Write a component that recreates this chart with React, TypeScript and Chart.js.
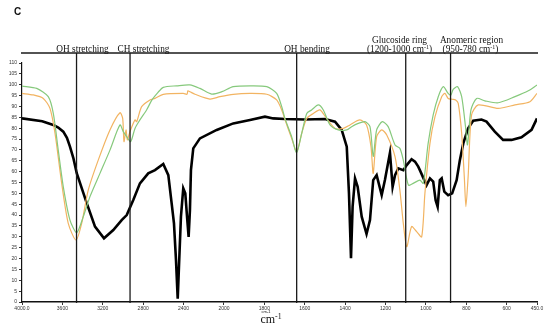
import { useEffect, useRef } from "react";
import { Chart, registerables } from "chart.js";

Chart.register(...registerables);

// Wavenumbers (cm-1) and transmittance (%)
const blackWn = [4000, 3800, 3690, 3641, 3591, 3555, 3525, 3490, 3458, 3359, 3277, 3188, 3096, 3013, 2963, 2898, 2832, 2750, 2683, 2601, 2551, 2518, 2495, 2475, 2458, 2443, 2426, 2403, 2383, 2363, 2350, 2337, 2327, 2304, 2238, 2072, 1954, 1871, 1797, 1756, 1698, 1599, 1500, 1450, 1417, 1392, 1381, 1371, 1363, 1351, 1338, 1318, 1294, 1277, 1261, 1244, 1219, 1203, 1178, 1165, 1153, 1137, 1112, 1095, 1071, 1054, 1038, 1030, 997, 980, 964, 952, 942, 931, 922, 909, 890, 870, 848, 832, 815, 791, 766, 725, 700, 659, 618, 576, 527, 477, 450];
const blackT = [84.5, 83.2, 81.5, 80.3, 78.4, 75.6, 71.5, 66, 59.3, 45.5, 34.7, 29.3, 33.1, 37.7, 40, 46.9, 54.6, 59.2, 60.7, 63.5, 58.4, 45.4, 36.2, 19.3, 1.5, 19.3, 39.3, 52.3, 50, 37.7, 30, 42.3, 60.7, 70.7, 75.3, 79.2, 82.2, 83.8, 85.3, 84.5, 84.2, 84, 84.2, 83, 79.2, 71.5, 50, 20.1, 43.9, 56.9, 53, 39.3, 31.3, 37.7, 56.1, 58.4, 49.2, 56.1, 68.7, 53, 58.4, 61.5, 60.7, 63, 65.7, 64.6, 62.3, 60.7, 53.8, 56.9, 55.4, 46.9, 43.9, 56.1, 56.9, 50.8, 49.2, 50, 56.1, 65.3, 73, 79.9, 83.4, 84, 83, 78.4, 74.6, 74.6, 75.8, 79.2, 84.5];

const greenWn = [4000, 3854, 3740, 3690, 3641, 3591, 3525, 3458, 3393, 3327, 3228, 3129, 3030, 2997, 2963, 2924, 2881, 2832, 2765, 2713, 2653, 2601, 2468, 2337, 2238, 2122, 2020, 1954, 1871, 1788, 1739, 1714, 1698, 1665, 1640, 1615, 1590, 1566, 1533, 1508, 1475, 1434, 1392, 1368, 1335, 1302, 1277, 1261, 1244, 1216, 1187, 1153, 1129, 1112, 1087, 1063, 1030, 1013, 989, 964, 939, 914, 890, 876, 865, 843, 823, 804, 794, 777, 749, 708, 642, 559, 493, 450];
const greenT = [99.4, 98.3, 94.5, 86.8, 69.9, 53, 37.7, 31.9, 39.3, 48.5, 59.2, 69.9, 81.5, 78.4, 76.1, 73.8, 79.9, 83.8, 88.5, 93, 96.5, 98.8, 99.5, 99.9, 98.3, 95.7, 96.8, 99.1, 99.5, 99.1, 96, 89.9, 84.5, 76.1, 68.7, 77.6, 86.8, 88.4, 90.7, 88.4, 81.5, 79.2, 79.2, 80.7, 82.2, 83, 80.7, 67, 79.2, 83, 80.7, 72.3, 70.7, 65.3, 53.8, 54.6, 56.1, 54.6, 73, 86.1, 94.5, 99.1, 96, 95.3, 97.9, 99.1, 94.5, 80.7, 72.3, 88.4, 93.7, 92.6, 91.7, 94.5, 97.2, 99.9];

const orangeWn = [4000, 3888, 3789, 3723, 3673, 3607, 3542, 3465, 3409, 3344, 3245, 3129, 3030, 3003, 2990, 2970, 2957, 2931, 2881, 2864, 2815, 2733, 2683, 2601, 2403, 2366, 2357, 2337, 2287, 2139, 2040, 1954, 1871, 1788, 1739, 1714, 1698, 1665, 1640, 1615, 1590, 1557, 1525, 1492, 1450, 1409, 1376, 1327, 1294, 1272, 1261, 1244, 1219, 1194, 1153, 1129, 1112, 1095, 1071, 1046, 1021, 1005, 980, 955, 922, 906, 890, 870, 853, 840, 823, 810, 802, 791, 774, 741, 642, 559, 485, 450];
const orangeT = [96, 95.3, 93.7, 89.1, 77.6, 54.6, 36.2, 28.5, 36.2, 51.5, 65.3, 79.2, 87.1, 84.5, 73.8, 79.2, 74.6, 78.4, 83.8, 83, 89.9, 93, 93.7, 95.6, 96, 95.6, 97.2, 96.8, 95.6, 93.4, 94.5, 95.6, 96, 95.6, 93, 88.4, 84, 75.3, 69.2, 77.6, 84.5, 86.8, 88.4, 84.5, 79.9, 79.9, 81.5, 83.8, 81.5, 71.5, 59.2, 76.1, 79.2, 76.9, 66.9, 51.5, 36.2, 25.4, 34.7, 32.4, 30, 50, 73, 85.3, 94.5, 96, 93.7, 93.3, 93, 91.4, 77.6, 57.7, 43.9, 57.7, 86.1, 90.7, 89.1, 90.7, 92.2, 96];

const xTickWn = [4000, 3600, 3200, 2800, 2400, 2000, 1800, 1600, 1400, 1200, 1000, 800, 600, 450];
const yMin = 0;
const yMax = 110;
const yStep = 5;

const markerWn = [3460, 2930, 1640, 1100, 878];

// The instrument's axis changes scale at 2000 cm-1
function toPos(w: number): number {
  return w >= 2000 ? (4000 - w) / 400 : 5 + (2000 - w) / 200;
}
function fromPos(p: number): number {
  return p <= 5 ? 4000 - p * 400 : 2000 - (p - 5) * 200;
}

function makeData(wn: number[], t: number[]) {
  return wn.map((w, i) => ({ x: toPos(w), y: t[i] }));
}

const annotPlugin = {
  id: "annot",
  afterDatasetsDraw(chart: any) {
    const { ctx, scales } = chart;
    const x = scales.x;
    const y = scales.y;
    const top = y.top - 10;
    const bottom = y.getPixelForValue(0) + 1;
    ctx.save();
    ctx.strokeStyle = "#1a1a1a";
    ctx.lineWidth = 1.3;
    ctx.beginPath();
    ctx.moveTo(x.left - 1, top);
    ctx.lineTo(x.right + 1, top);
    ctx.stroke();
    markerWn.forEach((w) => {
      const px = x.getPixelForValue(toPos(w));
      ctx.beginPath();
      ctx.moveTo(px, top);
      ctx.lineTo(px, bottom);
      ctx.stroke();
    });

    ctx.fillStyle = "#111";
    ctx.font = "9.3px 'Liberation Serif', serif";
    ctx.textAlign = "center";
    ctx.textBaseline = "alphabetic";
    ctx.fillText("OH stretching", 82.5, top - 1);
    ctx.fillText("CH stretching", 143.5, top - 1);
    ctx.fillText("OH bending", 307, top - 1);
    ctx.fillText("Glucoside ring", 399.5, top - 10);
    ctx.fillText("Anomeric region", 471.5, top - 10);

    const supText = (base: string, sup: string, tail: string, cx: number, by: number, size: number) => {
      ctx.font = `${size}px 'Liberation Serif', serif`;
      const w1 = ctx.measureText(base).width;
      const w3 = ctx.measureText(tail).width;
      ctx.font = `${size * 0.65}px 'Liberation Serif', serif`;
      const w2 = ctx.measureText(sup).width;
      const total = w1 + w2 + w3;
      let sx = cx - total / 2;
      ctx.textAlign = "left";
      ctx.font = `${size}px 'Liberation Serif', serif`;
      ctx.fillText(base, sx, by);
      sx += w1;
      ctx.font = `${size * 0.65}px 'Liberation Serif', serif`;
      ctx.fillText(sup, sx, by - size * 0.35);
      sx += w2;
      ctx.font = `${size}px 'Liberation Serif', serif`;
      ctx.fillText(tail, sx, by);
    };
    supText("(1200-1000 cm", "-1", ")", 399.5, top - 1, 9.3);
    supText("(950-780 cm", "-1", ")", 470.5, top - 1, 9.3);

    // x-axis unit
    supText("cm", "-1", "", 271, 323, 12);
    ctx.font = "4px 'Liberation Sans', sans-serif";
    ctx.textAlign = "center";
    ctx.fillText("cm-1", 266, 313);

    // panel letter
    ctx.font = "bold 10px 'Liberation Sans', sans-serif";
    ctx.textAlign = "left";
    ctx.fillText("C", 14, 15);
    ctx.restore();
  },
};

export default function App() {
  const ref = useRef<HTMLCanvasElement | null>(null);

  useEffect(() => {
    if (!ref.current) return;
    const chart = new Chart(ref.current, {
      type: "line",
      data: {
        datasets: [
          {
            data: makeData(greenWn, greenT),
            borderColor: "#86c97c",
            borderWidth: 1.2,
            pointRadius: 0,
            tension: 0.25,
          },
          {
            data: makeData(orangeWn, orangeT),
            borderColor: "#f2b462",
            borderWidth: 1.2,
            pointRadius: 0,
            tension: 0.25,
          },
          {
            data: makeData(blackWn, blackT),
            borderColor: "#000000",
            borderWidth: 2.6,
            pointRadius: 0,
            tension: 0,
          },
        ],
      },
      options: {
        responsive: false,
        animation: false,
        layout: { padding: { top: 63, right: 13, bottom: 0, left: 0 } },
        plugins: { legend: { display: false }, tooltip: { enabled: false } },
        scales: {
          x: {
            type: "linear",
            min: 0,
            max: toPos(450),
            afterBuildTicks: (axis: any) => {
              axis.ticks = xTickWn.map((w) => ({ value: toPos(w) }));
            },
            afterFit: (axis: any) => {
              axis.height = 26;
            },
            grid: {
              display: true,
              drawOnChartArea: false,
              drawTicks: true,
              tickLength: 3,
              color: "#333",
            },
            border: { display: true, color: "#111", width: 1.5 },
            ticks: {
              autoSkip: false,
              maxRotation: 0,
              padding: 1,
              color: "#333",
              font: { size: 5, family: "'Liberation Sans', sans-serif" },
              callback: (v: any) => {
                const w = Math.round(fromPos(Number(v)));
                return w === 4000 || w === 450 ? w.toFixed(1) : String(w);
              },
            },
          },
          y: {
            min: yMin,
            max: yMax,
            afterFit: (axis: any) => {
              axis.width = 22;
            },
            grid: {
              display: true,
              drawOnChartArea: false,
              drawTicks: true,
              tickLength: 3,
              color: "#333",
            },
            border: { display: true, color: "#111", width: 1.2 },
            ticks: {
              stepSize: yStep,
              padding: 2,
              color: "#333",
              font: { size: 5, family: "'Liberation Sans', sans-serif" },
            },
          },
        },
      },
      plugins: [annotPlugin],
    });
    return () => chart.destroy();
  }, []);

  return (
    <div style={{ position: "fixed", left: 0, top: 0, width: 550, height: 328, background: "#fff" }}>
      <canvas ref={ref} width={550} height={328} style={{ width: 550, height: 328 }} />
    </div>
  );
}
